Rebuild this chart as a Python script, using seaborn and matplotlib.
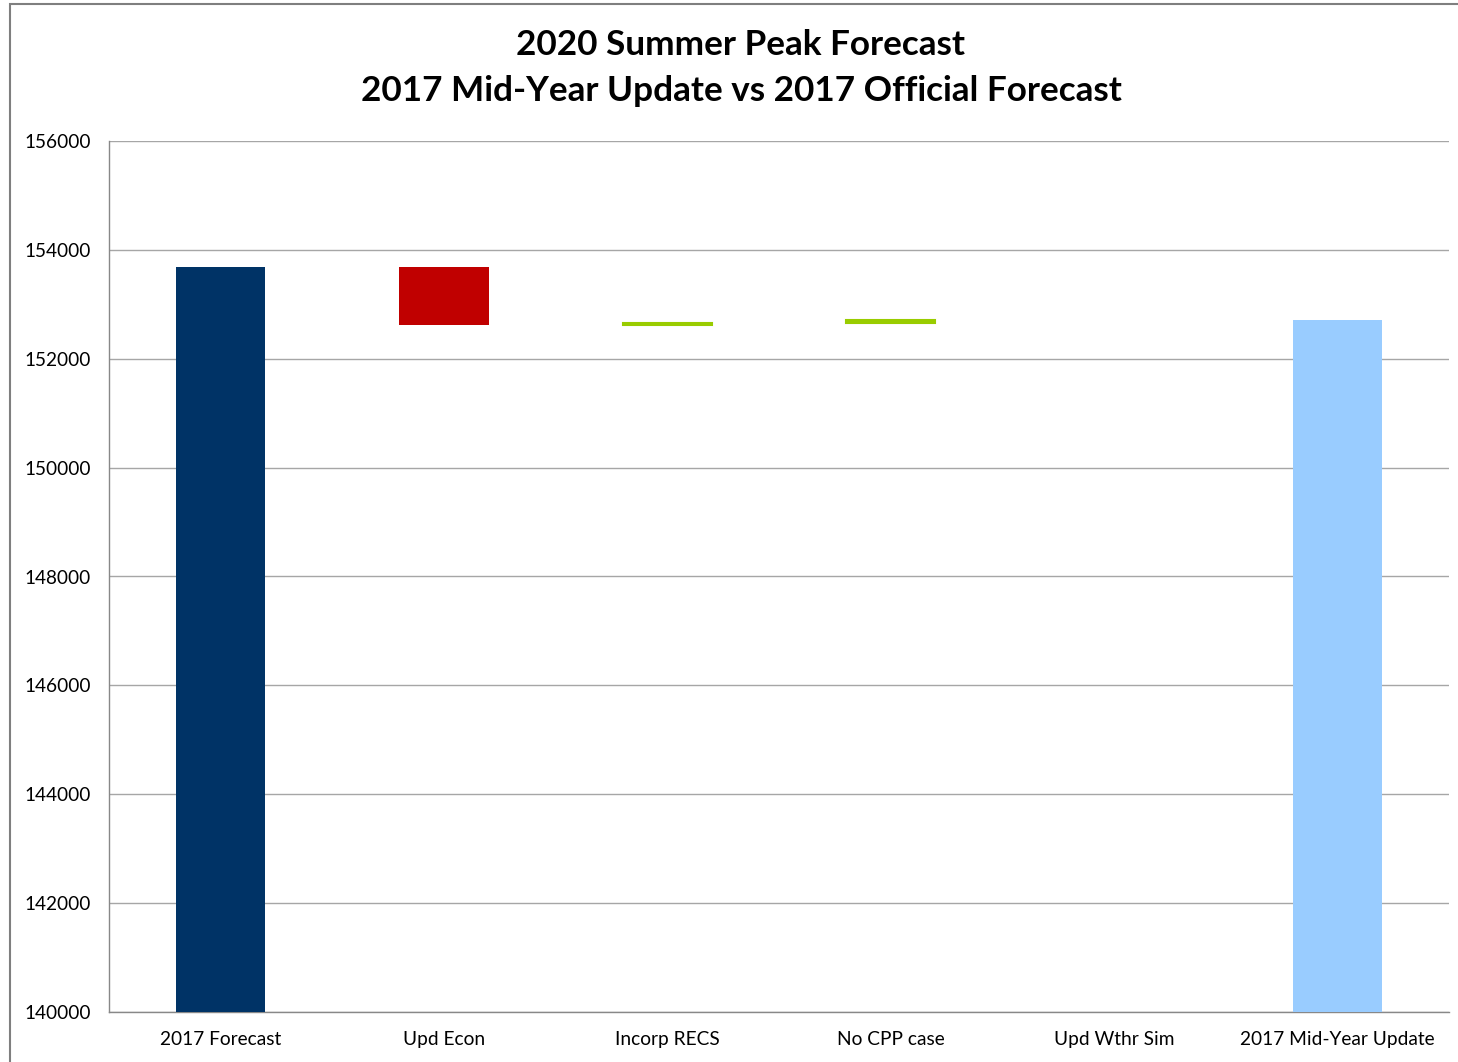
import matplotlib
matplotlib.use("Agg")
import matplotlib.pyplot as plt
import seaborn as sns
import pandas as pd
from matplotlib.patches import Rectangle

# waterfall data
categories = ["2017 Forecast", "Upd Econ", "Incorp RECS", "No CPP case", "Upd Wthr Sim", "2017 Mid-Year Update"]
start_value = 153690
changes = [-1070, 30, 70, 0]
bar_colors = ["#003366", "#C00000", "#99CC00", "#99CC00", "#99CC00", "#99CCFF"]

# build bottoms / heights for the waterfall
bottoms = [0]
heights = [start_value]
level = start_value
for ch in changes:
    bottoms.append(min(level, level + ch))
    heights.append(abs(ch))
    level += ch
bottoms.append(0)
heights.append(level)

df = pd.DataFrame({"step": categories, "height": heights})

sns.set_style("white")
plt.rcParams["font.family"] = ["Lato", "DejaVu Sans"]
plt.rcParams["text.color"] = "black"
plt.rcParams["xtick.color"] = "black"
plt.rcParams["ytick.color"] = "black"

fig = plt.figure(figsize=(14.58, 10.62), dpi=100)
ax = fig.add_axes([109 / 1458, 1 - 1012 / 1062, 1340 / 1458, 871 / 1062])

sns.barplot(data=df, x="step", y="height", order=categories, bottom=bottoms,
            width=0.4, errorbar=None, color="#003366", ax=ax, zorder=3)
for patch, c, h in zip(ax.patches, bar_colors, heights):
    patch.set_facecolor(c)
    if 0 < h < 200:
        patch.set_edgecolor(c)
        patch.set_linewidth(1.5)
    else:
        patch.set_edgecolor("none")
        patch.set_linewidth(0)

ax.set_ylim(140000, 156000)
ax.set_xlim(-0.5, 5.5)
ax.set_yticks(range(140000, 156001, 2000))
ax.yaxis.grid(True, color="#A6A6A6", linewidth=1, zorder=0)
ax.set_axisbelow(True)
ax.set_xlabel("")
ax.set_ylabel("")

ax.set_xticks([i - 0.5 for i in range(7)], minor=True)
ax.tick_params(axis="x", which="major", length=0, pad=14, labelsize=13.8)
ax.tick_params(axis="x", which="minor", length=6, color="#888888", width=1, direction="out")
ax.tick_params(axis="y", length=5, color="#888888", width=1, direction="out", pad=8, labelsize=13.7)

for s in ["top", "right"]:
    ax.spines[s].set_visible(False)
for s in ["left", "bottom"]:
    ax.spines[s].set_color("#888888")
    ax.spines[s].set_linewidth(1)

fig.text(741 / 1458, 1 - 45 / 1062, "2020 Summer Peak Forecast",
         ha="center", va="center", fontsize=25.3, fontweight="bold", color="black")
fig.text(741 / 1458, 1 - 91 / 1062, "2017 Mid-Year Update vs 2017 Official Forecast",
         ha="center", va="center", fontsize=25.3, fontweight="bold", color="black")

# chart area border
fig.patches.append(Rectangle((10 / 1458, -0.05), 1.1, 1 - 4 / 1062 + 0.05,
                             transform=fig.transFigure, fill=False,
                             edgecolor="#7F7F7F", linewidth=1.5))

plt.savefig("out.png", dpi=100)
